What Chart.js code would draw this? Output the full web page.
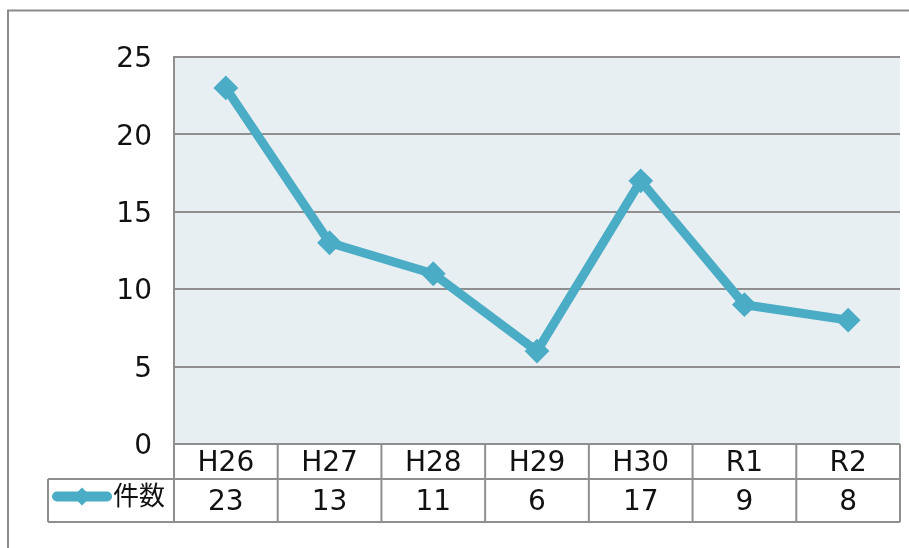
<!DOCTYPE html>
<html>
<head>
<meta charset="utf-8">
<script src="https://cdn.jsdelivr.net/npm/chart.js@4"></script>
<style>
  html, body { margin: 0; padding: 0; background: #fff; }
  #wrap { width: 909px; height: 548px; position: relative; }
</style>
</head>
<body>
<div id="wrap"><canvas id="chart"></canvas></div>
<script>
// Chart data
const categories = ['H26', 'H27', 'H28', 'H29', 'H30', 'R1', 'R2'];
const seriesName = '件数';
const counts = [23, 13, 11, 6, 17, 9, 8];
const yTicks = [0, 5, 10, 15, 20, 25];

const LINE_COLOR = '#4bacc6';
const GRID_COLOR = '#8f8f8f';
const FONT = '"DejaVu Sans", "Noto Sans CJK JP", sans-serif';

/**
 * Draws the outer frame and plot background
 */
const backgroundPlugin = {
    id: 'background',
    beforeDraw(chart) {
        const ctx = chart.ctx;
        const a = chart.chartArea;
        ctx.save();
        // outer frame
        ctx.strokeStyle = '#8a8a8a';
        ctx.lineWidth = 2;
        ctx.strokeRect(8, 10.5, 940, 600);
        // plot area
        ctx.fillStyle = '#e8eff3';
        ctx.fillRect(a.left, a.top, a.right - a.left, a.bottom - a.top);
        ctx.restore();
    }
};

/**
 * Draws the data table under the plot (categories, legend key, values)
 */
const dataTablePlugin = {
    id: 'dataTable',
    afterDraw(chart) {
        const ctx = chart.ctx;
        const a = chart.chartArea;
        const xScale = chart.scales.x;
        const colW = (a.right - a.left) / categories.length;
        const row1Bottom = a.bottom + 35;
        const row2Bottom = a.bottom + 78;
        const legendLeft = 48;

        ctx.save();
        ctx.strokeStyle = GRID_COLOR;
        ctx.lineWidth = 2;
        ctx.beginPath();
        // horizontal lines
        ctx.moveTo(a.left, a.bottom);
        ctx.lineTo(a.right, a.bottom);
        ctx.moveTo(legendLeft, row1Bottom);
        ctx.lineTo(a.right, row1Bottom);
        ctx.moveTo(legendLeft, row2Bottom);
        ctx.lineTo(a.right, row2Bottom);
        // vertical lines
        for (let i = 0; i <= categories.length; i++) {
            const x = a.left + i * colW;
            ctx.moveTo(x, a.bottom);
            ctx.lineTo(x, row2Bottom);
        }
        ctx.moveTo(legendLeft, row1Bottom);
        ctx.lineTo(legendLeft, row2Bottom);
        ctx.stroke();

        // texts
        ctx.fillStyle = '#111';
        ctx.font = '28px ' + FONT;
        ctx.textAlign = 'center';
        ctx.textBaseline = 'middle';
        categories.forEach((c, i) => {
            const x = xScale.getPixelForValue(i);
            ctx.fillText(c, x, (a.bottom + row1Bottom) / 2 + 2);
            ctx.fillText(String(counts[i]), x, (row1Bottom + row2Bottom) / 2 + 2);
        });

        // legend key
        const ly = (row1Bottom + row2Bottom) / 2 - 4;
        ctx.strokeStyle = LINE_COLOR;
        ctx.lineWidth = 10;
        ctx.lineCap = 'round';
        ctx.beginPath();
        ctx.moveTo(57, ly);
        ctx.lineTo(107, ly);
        ctx.stroke();
        ctx.fillStyle = LINE_COLOR;
        ctx.beginPath();
        ctx.moveTo(82, ly - 9);
        ctx.lineTo(91, ly);
        ctx.lineTo(82, ly + 9);
        ctx.lineTo(73, ly);
        ctx.closePath();
        ctx.fill();

        ctx.fillStyle = '#111';
        ctx.font = '26px ' + FONT;
        ctx.textAlign = 'left';
        ctx.fillText(seriesName, 113, ly + 2);
        ctx.restore();
    }
};

const ctx = document.getElementById('chart').getContext('2d');
const chart = new Chart(ctx, {
    type: 'line',
    data: {
        labels: categories,
        datasets: [{
            label: seriesName,
            data: counts,
            borderColor: LINE_COLOR,
            backgroundColor: LINE_COLOR,
            borderWidth: 9,
            tension: 0,
            pointStyle: 'rectRot',
            pointRadius: 11,
            pointBorderWidth: 2,
            pointBorderColor: LINE_COLOR,
            pointBackgroundColor: LINE_COLOR
        }]
    },
    options: {
        responsive: true,
        maintainAspectRatio: false,
        animation: false,
        layout: {
            autoPadding: false,
            padding: { top: 57, right: 9, bottom: 104, left: 0 }
        },
        scales: {
            x: {
                type: 'category',
                offset: true,
                display: false
            },
            y: {
                min: 0,
                max: 25,
                afterBuildTicks(scale) {
                    scale.ticks = yTicks.map(v => ({ value: v }));
                },
                afterFit(scale) {
                    scale.width = 174;
                },
                grid: {
                    color: GRID_COLOR,
                    lineWidth: 2,
                    drawTicks: false
                },
                border: {
                    display: true,
                    color: GRID_COLOR,
                    width: 2
                },
                ticks: {
                    padding: 22,
                    labelOffset: 3,
                    color: '#111',
                    font: { family: FONT, size: 28 }
                }
            }
        },
        plugins: {
            legend: { display: false },
            tooltip: { enabled: false }
        }
    },
    plugins: [backgroundPlugin, dataTablePlugin]
});
</script>
</body>
</html>
